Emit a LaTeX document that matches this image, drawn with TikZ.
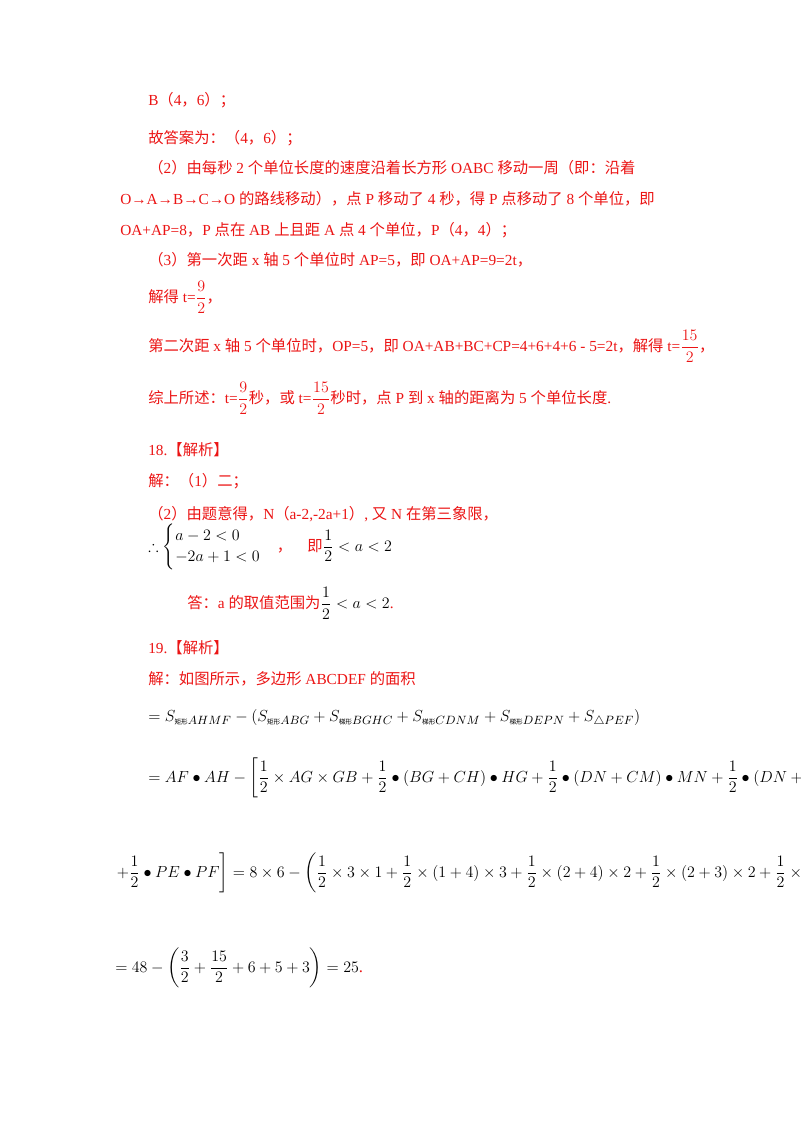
\documentclass[tikz,border=0pt]{standalone}
\usepackage{amsmath}
\usepackage{amssymb}
\usepackage{fontspec}
\setmainfont{Liberation Serif}
\newfontfamily\cjk{Noto Sans CJK SC}
\newcommand\zh[1]{{\cjk #1}}
\definecolor{ansred}{RGB}{235,20,20}
\tikzset{
  line/.style={anchor=west, inner sep=0pt, font=\fontsize{11.5}{13}\selectfont},
  redline/.style={line, text=ansred},
  mathline/.style={line, text=black, font=\fontsize{12.5}{14}\selectfont}
}
\begin{document}
\begin{tikzpicture}[x=0.75pt,y=-0.75pt]
  \useasboundingbox (0,0) rectangle (800,1132);

  % Part 17 answers
  \node[redline] (b46)   at (148,100) {B\zh{（}4\zh{，}6\zh{）；}};
  \node[redline] (ans)   at (148,138) {\zh{故答案为：（}4\zh{，}6\zh{）；}};
  \node[redline] (q2a)   at (148,168) {\zh{（}2\zh{）由每秒} 2 \zh{个单位长度的速度沿着长方形} OABC \zh{移动一周（即：沿着}};
  \node[redline] (q2b)   at (120,199) {O→A→B→C→O \zh{的路线移动），点} P \zh{移动了} 4 \zh{秒，得} P \zh{点移动了} 8 \zh{个单位，即}};
  \node[redline] (q2c)   at (120,230) {OA+AP=8\zh{，}P \zh{点在} AB \zh{上且距} A \zh{点} 4 \zh{个单位，}P\zh{（}4\zh{，}4\zh{）；}};
  \node[redline] (q3a)   at (148,260) {\zh{（}3\zh{）第一次距} x \zh{轴} 5 \zh{个单位时} AP=5\zh{，即} OA+AP=9=2t\zh{，}};
  \node[redline] (q3b)   at (148,297) {\zh{解得} t=$\dfrac{9}{2}$\zh{，}};
  \node[redline] (q3c)   at (148,346) {\zh{第二次距} x \zh{轴} 5 \zh{个单位时，}OP=5\zh{，即} OA+AB+BC+CP=4+6+4+6 - 5=2t\zh{，解得} t=$\dfrac{15}{2}$\zh{，}};
  \node[redline] (q3d)   at (148,398) {\zh{综上所述：}t=$\dfrac{9}{2}$\zh{秒，或} t=$\dfrac{15}{2}$\zh{秒时，点} P \zh{到} x \zh{轴的距离为} 5 \zh{个单位长度}.};

  % Part 18
  \node[redline] (h18)   at (148,450) {18.\zh{【解析】}};
  \node[redline] (s18a)  at (148,481) {\zh{解：（}1\zh{）二；}};
  \node[redline] (s18b)  at (148,514) {\zh{（}2\zh{）由题意得，}N\zh{（}a-2,-2a+1\zh{）}, \zh{又} N \zh{在第三象限，}};
  \node[redline] (s18c)  at (148,547) {\textcolor{black}{$\therefore\begin{cases}a-2<0\\-2a+1<0\end{cases}$}\zh{，}\quad\zh{即}\textcolor{black}{$\dfrac{1}{2}<a<2$}};
  \node[redline] (s18d)  at (187,603) {\zh{答：}a \zh{的取值范围为}\textcolor{black}{$\dfrac{1}{2}<a<2$}.};

  % Part 19
  \node[redline] (h19)   at (148,648) {19.\zh{【解析】}};
  \node[redline] (s19a)  at (148,679) {\zh{解：如图所示，多边形} ABCDEF \zh{的面积}};
  \node[mathline] (s19b) at (148,718) {$=S_{\text{\zh{\tiny 矩形}}AHMF}-(S_{\text{\zh{\tiny 矩形}}ABG}+S_{\text{\zh{\tiny 梯形}}BGHC}+S_{\text{\zh{\tiny 梯形}}CDNM}+S_{\text{\zh{\tiny 梯形}}DEPN}+S_{\triangle PEF})$};
  \node[mathline] (s19c) at (148,778) {$=AF\bullet AH-\left[\dfrac{1}{2}\times AG\times GB+\dfrac{1}{2}\bullet(BG+CH)\bullet HG+\dfrac{1}{2}\bullet(DN+CM)\bullet MN+\dfrac{1}{2}\bullet(DN+PE)\bullet PN\right.$};
  \node[mathline] (s19d) at (115,873) {$\left.+\dfrac{1}{2}\bullet PE\bullet PF\right]=8\times6-\left(\dfrac{1}{2}\times3\times1+\dfrac{1}{2}\times(1+4)\times3+\dfrac{1}{2}\times(2+4)\times2+\dfrac{1}{2}\times(2+3)\times2+\dfrac{1}{2}\times3\times2\right)$};
  \node[mathline] (s19e) at (115,968) {$=48-\left(\dfrac{3}{2}+\dfrac{15}{2}+6+5+3\right)=25$\textcolor{ansred}{.}};
\end{tikzpicture}
\end{document}
